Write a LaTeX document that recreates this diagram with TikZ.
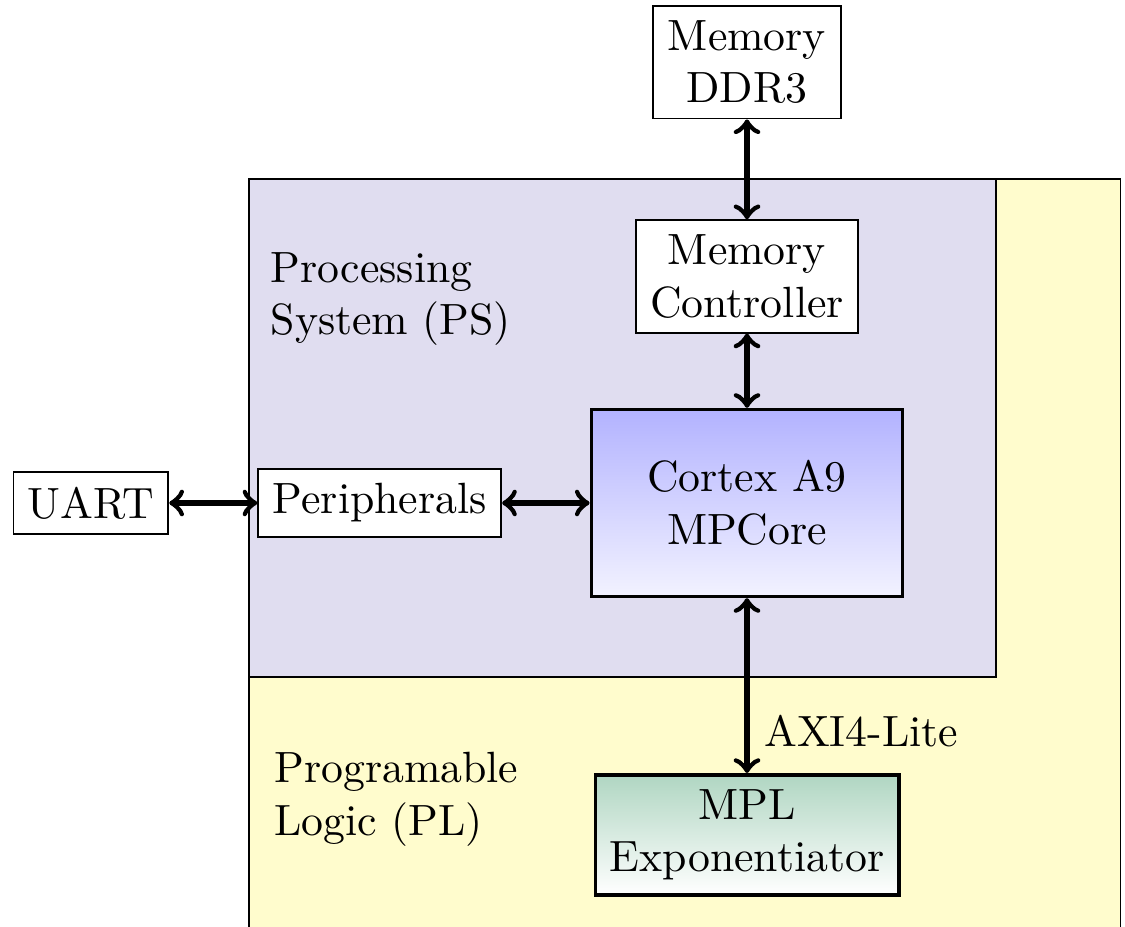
\documentclass[tikz,border=0pt]{standalone}
\usepackage{tikz, xcolor}
\usetikzlibrary{arrows.meta}
\definecolor{psviolet}{RGB}{224,221,240}
\definecolor{plyellow}{RGB}{255,252,205}
\definecolor{mplgreen}{RGB}{176,214,194}
\tikzset{>=to}
\tikzset{block/.style={draw, fill=white, align=center},
         core/.style={draw, thick, align=center}}

\begin{document}
\begin{tikzpicture}
\clip (0,0) rectangle (9.036,7.44);
% regions
\draw[fill=plyellow] (2,-1) rectangle (9,6);
\draw[fill=psviolet] (2,2) rectangle (8,6);
\node[align=left, anchor=west] (pslabel) at (2.05,5.04) {Processing\\System (PS)};
\node[align=left, anchor=west] (pllabel) at (2.08,1.02) {Programable\\Logic (PL)};
% blocks
\node[block] (ddr) at (6,6.94) {Memory\\DDR3};
\node[block] (mc) at (6,5.22) {Memory\\Controller};
\node[core, top color=blue!30, bottom color=blue!5, minimum width=2.5cm, minimum height=1.5cm] (cortex) at (6,3.4) {Cortex A9\\MPCore};
\node[block] (periph) at (3.05,3.4) {Peripherals};
\node[block] (uart) at (0.73,3.4) {UART};
\node[core, top color=mplgreen, bottom color=white] (mpl) at (6,0.735) {MPL\\Exponentiator};
% buses
\draw[<->, very thick] (ddr) -- (mc);
\draw[<->, very thick] (mc) -- (cortex);
\draw[<->, very thick] (cortex) -- node[right, pos=0.76] (axi) {AXI4-Lite} (mpl);
\draw[<->, very thick] (uart) -- (periph);
\draw[<->, very thick] (periph) -- (cortex);
\end{tikzpicture}
\end{document}
